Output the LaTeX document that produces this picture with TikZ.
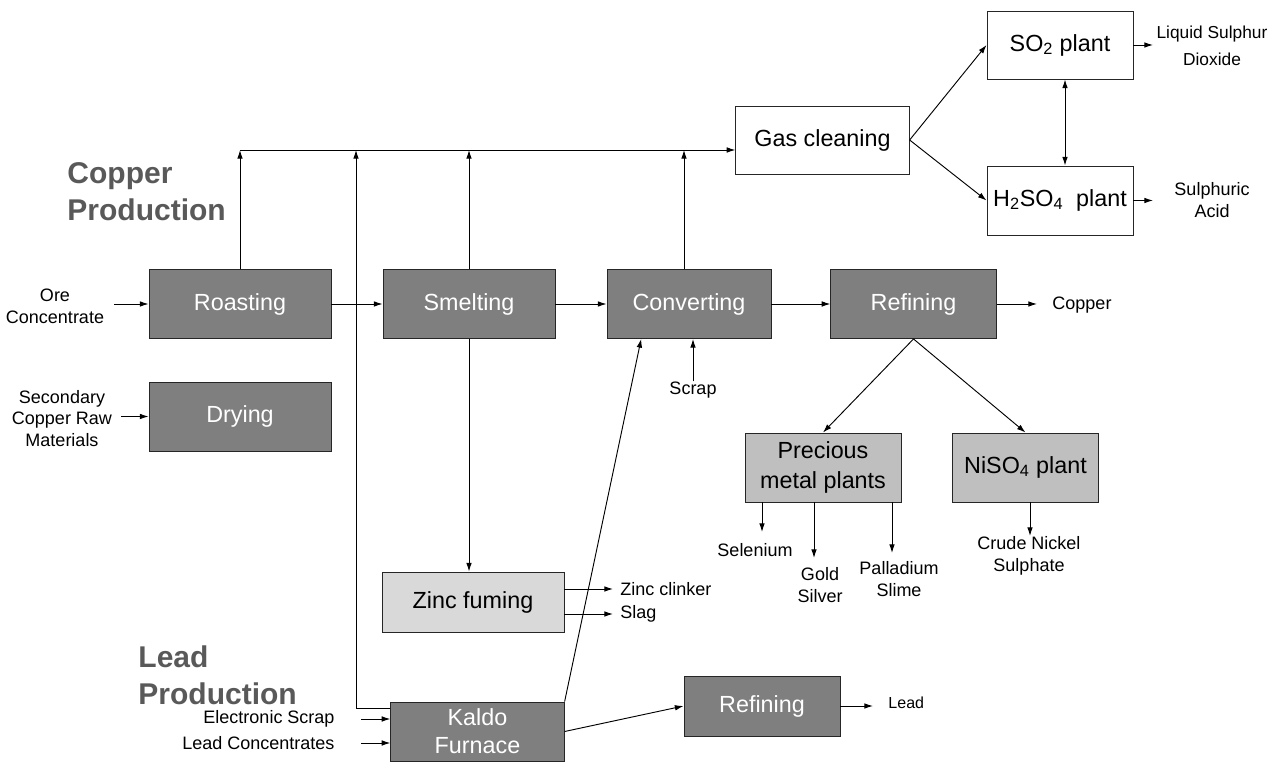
\documentclass[tikz,border=0pt]{standalone}
\usepackage{fontspec}
\setmainfont{Liberation Sans}
\usetikzlibrary{arrows.meta,calc}

\definecolor{darkbox}{HTML}{7F7F7F}
\definecolor{midbox}{HTML}{BFBFBF}
\definecolor{lightbox}{HTML}{D9D9D9}
\definecolor{titlegray}{HTML}{595959}

\begin{document}
\begin{tikzpicture}[x=0.75pt, y=-0.75pt,
  >={Latex[length=6.5pt,width=4.2pt]},
  every path/.style={line width=0.7pt},
  box/.style={draw=black!85, minimum height=51.75pt, inner sep=2pt, align=center, font=\fontsize{17.5}{22}\selectfont},
  darkstep/.style={box, fill=darkbox, text=white},
  plantbox/.style={box, fill=white},
  subbox/.style={box, fill=midbox},
  zincbox/.style={box, fill=lightbox, minimum height=45pt},
  lbl/.style={inner sep=0pt, align=center, font=\fontsize{13.5}{16.5}\selectfont},
  heading/.style={inner sep=0pt, align=left, text=titlegray, font=\bfseries\fontsize{22.5}{27.75}\selectfont}]

\useasboundingbox (0,0) rectangle (1285,762);

% Define the nodes
\node (roast) [darkstep, minimum width=136.5pt] at (240,304) {Roasting};
\node (dry) [darkstep, minimum width=136.5pt] at (240,416.5) {Drying};
\node (smelt) [darkstep, minimum width=129pt] at (469,304) {Smelting};
\node (conv) [darkstep, minimum width=123pt] at (689,304) {Converting};
\node (refine) [darkstep, minimum width=124pt] at (913.5,304) {Refining};
\node (gas) [plantbox, minimum width=130pt, minimum height=51pt] at (822.5,140) {Gas cleaning};
\node (so2) [plantbox, minimum width=109.5pt, minimum height=51pt] at (1060,45) {SO\textsubscript{2} plant};
\node (hsa) [plantbox, minimum width=109.5pt] at (1060,200.5) {H\textsubscript{2}SO\textsubscript{4}~~plant};
\node (prec) [subbox, minimum width=117pt, font=\fontsize{17.5}{22.5}\selectfont] at (823,467.5) {Precious\\metal plants};
\node (niso) [subbox, minimum width=110pt] at (1025.5,467.5) {NiSO\textsubscript{4} plant};
\node (zinc) [zincbox, minimum width=136.5pt] at (473,602) {Zinc fuming};
\node (kaldo) [darkstep, minimum width=130pt, minimum height=44.25pt, font=\fontsize{17.5}{21}\selectfont] at (477.5,731.5) {Kaldo\\Furnace};
\node (leadref) [darkstep, minimum width=117pt, minimum height=45pt] at (762,706) {Refining};

% Labels
\node (copperhd) [heading, anchor=west] at (67,191.5) {Copper\\Production};
\node (leadhd) [heading, anchor=west] at (138,675) {Lead\\Production};
\node (ore) [lbl] at (55,306) {Ore\\Concentrate};
\node (secraw) [lbl, font=\fontsize{13.5}{16}\selectfont] at (62,418.5) {Secondary\\Copper Raw\\Materials};
\node (escrap) [lbl, anchor=east] at (335,719) {Electronic Scrap};
\node (leadconc) [lbl, anchor=east] at (335,743) {Lead Concentrates};
\node (scrap) [lbl] at (693,390) {Scrap};
\node (zclinker) [lbl, anchor=west] at (620,589) {Zinc clinker};
\node (slag) [lbl, anchor=west] at (620,614) {Slag};
\node (lead) [lbl, anchor=west, font=\fontsize{12}{14}\selectfont] at (888,703) {Lead};
\node (copper) [lbl, anchor=west] at (1052,305) {Copper};
\node (liqso2) [lbl, font=\fontsize{13}{20}\selectfont] at (1212,46) {Liquid Sulphur\\Dioxide};
\node (acid) [lbl] at (1212,200.5) {Sulphuric\\Acid};
\node (selen) [lbl] at (755,550) {Selenium};
\node (goldsil) [lbl] at (820,585) {Gold\\Silver};
\node (pallad) [lbl] at (899,579) {Palladium\\Slime};
\node (crudeni) [lbl] at (1029,556) {Crude Nickel\\Sulphate};

% Free ends
\coordinate (gasline) at (240,150);
\coordinate (kaldoup) at (356,150);
\coordinate (oreend) at (114,304);
\coordinate (secend) at (121,416.5);
\coordinate (escend) at (361,719);
\coordinate (lcend) at (361,743);
\coordinate (copend) at (1037,304);
\coordinate (leadend) at (873,706);
\coordinate (liqend) at (1153,45);
\coordinate (acidend) at (1153,200.5);
\coordinate (zcend) at (613,589);
\coordinate (slagend) at (613,614);
\coordinate (selend) at (762,532);
\coordinate (goldend) at (814,558);
\coordinate (pallend) at (892,553);
\coordinate (niend) at (1030,536);

% Connect the nodes
\draw[->] (oreend) -- (roast.west);
\draw[->] (secend) -- (dry.west);
\draw[->] (escend) -- (escend -| kaldo.west);
\draw[->] (lcend) -- (lcend -| kaldo.west);
\draw[->] (roast) -- (smelt);
\draw[->] (smelt) -- (conv);
\draw[->] (conv) -- (refine);
\draw[->] (refine) -- (copend);

% Off-gas line
\draw[->] (roast.north) -- (gasline);
\draw[->] (smelt.north) -- (smelt.north |- gasline);
\draw[->] ([xshift=-3.75pt]conv.north) -- ([xshift=-3.75pt]conv.north |- gasline);
\draw[->] ([yshift=-5.25pt]kaldo.north west) -| (kaldoup);
\draw[->] (gasline) -- (gasline -| gas.west);
\draw[->] (gas.east) -- (so2.west);
\draw[->] (gas.east) -- (hsa.west);
\draw[<->] ([xshift=3.75pt]so2.south) -- ([xshift=3.75pt]hsa.north);
\draw[->] (so2) -- (liqend);
\draw[->] (hsa) -- (acidend);

% Slag and lead
\draw[->] (smelt.south) -- (smelt.south |- zinc.north);
\draw[->] (zinc.east |- zcend) -- (zcend);
\draw[->] (zinc.east |- slagend) -- (slagend);
\draw[->] (kaldo.north east) -- ($(conv.south west)!0.21!(conv.south east)$);
\draw[->] (scrap) -- (scrap |- conv.south);
\draw[->] (kaldo.east) -- (leadref.west);
\draw[->] (leadref) -- (leadend);

% By-products
\draw[->] (refine.south) -- (prec.north);
\draw[->] (refine.south) -- (niso.north);
\draw[->] (prec.south -| selend) -- (selend);
\draw[->] (prec.south -| goldend) -- (goldend);
\draw[->] (prec.south -| pallend) -- (pallend);
\draw[->] (niso.south -| niend) -- (niend);
\end{tikzpicture}
\end{document}
